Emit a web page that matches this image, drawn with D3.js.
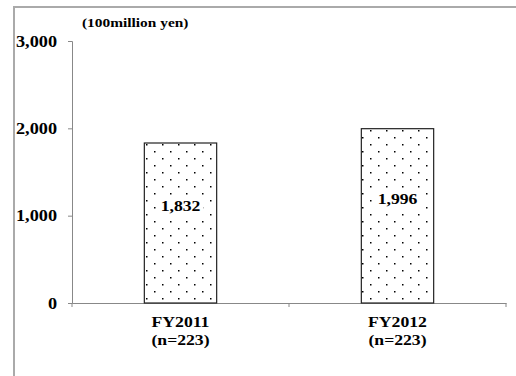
<!DOCTYPE html>
<html><head><meta charset="utf-8">
<script src="https://cdn.jsdelivr.net/npm/d3@7"></script>
<style>body{margin:0;background:#fff}svg{display:block}text{font-family:"Liberation Serif","Times New Roman",serif;font-weight:bold;fill:#000}</style>
</head><body><svg id="c" width="516" height="376"></svg>
<script>
const categories = ["FY2011", "FY2012"];
const sampleSizes = ["(n=223)", "(n=223)"];
const values = [1832, 1996];
const yTicks = [0, 1000, 2000, 3000];
const unitLabel = "(100million yen)";

const svg = d3.select("#c");
const SX = 1.14;
const x0 = 72, x1 = 506, yTop = 41, yBot = 303;

// outer frame
svg.append("path").attr("d", "M14,376 V7 H516").attr("fill", "none").attr("stroke", "#aaa").attr("stroke-width", 2);

const defs = svg.append("defs");
const pat = defs.append("pattern").attr("id", "dots").attr("patternUnits", "userSpaceOnUse")
  .attr("width", 16).attr("height", 14).attr("x", 146).attr("y", 144);
pat.append("rect").attr("width", 16).attr("height", 14).attr("fill", "#fff");
pat.append("rect").attr("x", 0).attr("y", 0).attr("width", 1.5).attr("height", 1.5).attr("fill", "#000");
pat.append("rect").attr("x", 8).attr("y", 7).attr("width", 1.5).attr("height", 1.5).attr("fill", "#000");

const x = d3.scaleBand().domain(categories).range([x0, x1]).paddingInner(2/3).paddingOuter(1/3);
const y = d3.scaleLinear().domain([0, 3000]).range([yBot, yTop]);

function stext(g, tx, ty, str, size, anchor) {
  return g.append("text").attr("transform", `translate(${tx},${ty}) scale(${SX},1)`)
    .attr("text-anchor", anchor).style("font-size", size + "px").text(str);
}

// y axis
const yAxis = svg.append("g").attr("transform", `translate(${x0},0)`)
  .call(d3.axisLeft(y).tickValues(yTicks).tickSize(4).tickFormat(""));
yAxis.select(".domain").attr("stroke", "#888");
yAxis.selectAll(".tick line").attr("stroke", "#888");
yTicks.forEach(t => stext(svg, 57, y(t) + 5.5, d3.format(",")(t), 16, "end"));

// x axis
const xAxis = svg.append("g").attr("transform", `translate(0,${yBot})`)
  .call(d3.axisBottom(x).tickSize(0).tickFormat(""));
xAxis.select(".domain").attr("stroke", "#888");
const step = x.step();
const bounds = [x0, x0 + step, x0 + 2 * step];
svg.selectAll(".xt").data(bounds).enter().append("line")
  .attr("x1", d => d).attr("x2", d => d).attr("y1", yBot).attr("y2", yBot + 4).attr("stroke", "#888");

// bars
const data = categories.map((c, i) => ({c, v: values[i], n: sampleSizes[i]}));
svg.selectAll(".bar").data(data).enter().append("rect")
  .attr("x", d => x(d.c)).attr("y", d => y(d.v))
  .attr("width", x.bandwidth()).attr("height", d => yBot - y(d.v))
  .attr("fill", "url(#dots)").attr("stroke", "#222").attr("stroke-width", 1.2);

// value labels
data.forEach(d => {
  const cx = x(d.c) + x.bandwidth() / 2;
  const by = y(d.v / 2) - 12;
  svg.append("rect").attr("x", cx - 23).attr("y", by - 15).attr("width", 46).attr("height", 21).attr("fill", "#fff");
  stext(svg, cx, by, d3.format(",")(d.v), 15.5, "middle");
  stext(svg, cx, 327, d.c, 15.5, "middle");
  stext(svg, cx, 345, d.n, 15.5, "middle");
});

stext(svg, 82, 27, unitLabel, 13.5, "start");
</script></body></html>
